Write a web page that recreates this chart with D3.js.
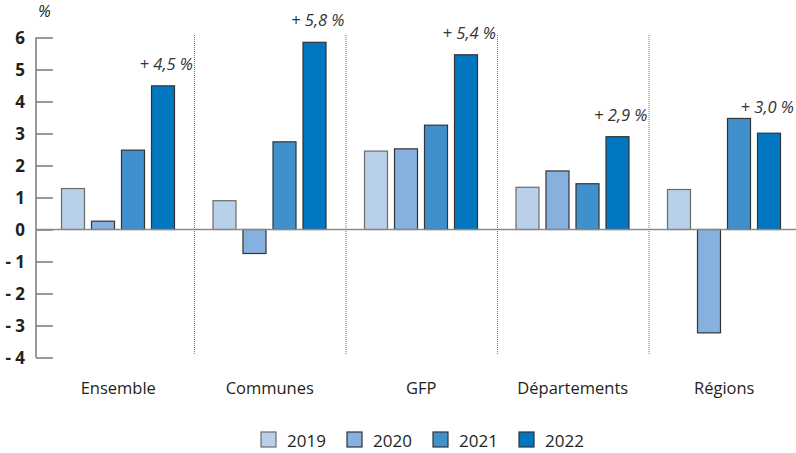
<!DOCTYPE html>
<html>
<head>
<meta charset="utf-8">
<script src="https://cdn.jsdelivr.net/npm/d3@7"></script>
<style>
  body { margin: 0; background: #fff; }
  text { font-family: 'Open Sans', 'Noto Sans', sans-serif; fill: #231f20; }
</style>
</head>
<body>
<div id="chart"></div>
<script>
const categories = ['Ensemble', 'Communes', 'GFP', 'Départements', 'Régions']
const years = ['2019', '2020', '2021', '2022']
const v2019 = [1.28, 0.9, 2.45, 1.32, 1.25]
const v2020 = [0.26, -0.75, 2.52, 1.83, -3.23]
const v2021 = [2.48, 2.74, 3.26, 1.43, 3.47]
const v2022 = [4.49, 5.85, 5.46, 2.9, 3.01]
const labels2022 = ['+ 4,5 %', '+ 5,8 %', '+ 5,4 %', '+ 2,9 %', '+ 3,0 %']
const yTicks = [6, 5, 4, 3, 2, 1, 0, -1, -2, -3, -4]

const colors = ['#b9d0ea', '#86b1df', '#4190ce', '#0077c0']
const strokes = ['#6b6b6b', '#333', '#333', '#333']

const W = 796, H = 453
const svg = d3.select('#chart').append('svg').attr('width', W).attr('height', H)

const series = [v2019, v2020, v2021, v2022]
const data = categories.map((c, i) => ({ cat: c, vals: series.map(s => s[i]), label: labels2022[i] }))

// scales
const x0 = d3.scaleBand().domain(categories).range([42.5, 800])
const x1 = d3.scaleBand().domain(years).range([15.5, 135.5]).paddingInner(0.2).paddingOuter(0.1)
const y = d3.scaleLinear().domain([-4, 6]).range([357.5, 37.5])

// separators
svg.selectAll('.sep').data(categories.slice(1)).enter().append('line')
  .attr('x1', d => x0(d) + 0.5).attr('x2', d => x0(d) + 0.5)
  .attr('y1', 35).attr('y2', 355)
  .attr('stroke', '#777').attr('stroke-width', 1).attr('stroke-dasharray', '1,1')

// y axis
const yAxis = svg.append('g').attr('transform', 'translate(36,0)')
  .call(d3.axisRight(y).tickValues(yTicks).tickSize(17).tickFormat(''))
yAxis.select('.domain').attr('stroke', '#777').attr('stroke-width', 1.5)
  .attr('d', 'M0,' + y(6) + 'V' + y(-4))
yAxis.selectAll('.tick line').attr('stroke', '#777').attr('stroke-width', 1.5)

svg.selectAll('.ylab').data(yTicks).enter().append('text')
  .attr('x', 25).attr('y', d => y(d) + 6)
  .attr('text-anchor', 'end')
  .style('font-size', '17px').style('font-weight', 'bold')
  .text(d => d < 0 ? '- ' + Math.abs(d) : d)

svg.append('text').attr('x', 38).attr('y', 17)
  .style('font-size', '16px').style('font-style', 'italic').text('%')

// bars
const groups = svg.selectAll('.grp').data(data).enter().append('g')
  .attr('transform', d => 'translate(' + x0(d.cat) + ',0)')

groups.selectAll('rect').data(d => d.vals.map((v, k) => ({ year: years[k], v, k }))).enter()
  .append('rect')
  .attr('x', d => x1(d.year) + 0.5)
  .attr('y', d => y(Math.max(0, d.v)))
  .attr('width', x1.bandwidth() - 1)
  .attr('height', d => Math.abs(y(d.v) - y(0)))
  .attr('fill', d => colors[d.k])
  .attr('stroke', d => strokes[d.k])
  .attr('stroke-width', 1.2)

// zero line
svg.append('line').attr('x1', 36).attr('x2', W).attr('y1', y(0)).attr('y2', y(0))
  .attr('stroke', '#8a8a8a').attr('stroke-width', 1.5)

// 2022 labels
groups.append('text')
  .attr('x', d => Math.min(x0.bandwidth() - 1, W - 2 - x0(d.cat)))
  .attr('y', d => Math.min(y(d.vals[3]) - 16, y(d3.max(d.vals)) - 5))
  .attr('text-anchor', 'end')
  .style('font-size', '16.5px').style('font-style', 'italic')
  .style('fill', '#333')
  .text(d => d.label)

// category labels
groups.append('text')
  .attr('x', x0.bandwidth() / 2).attr('y', 394)
  .attr('text-anchor', 'middle')
  .style('font-size', '16.5px')
  .text(d => d.cat)

// legend
const leg = svg.selectAll('.leg').data(years).enter().append('g')
  .attr('transform', (d, i) => 'translate(' + (261 + i * 86) + ',432)')
leg.append('rect').attr('width', 15).attr('height', 15)
  .attr('fill', (d, i) => colors[i]).attr('stroke', (d, i) => strokes[i]).attr('stroke-width', 1.2)
leg.append('text').attr('x', 26).attr('y', 15)
  .style('font-size', '17px').text(d => d)
</script>
</body>
</html>
